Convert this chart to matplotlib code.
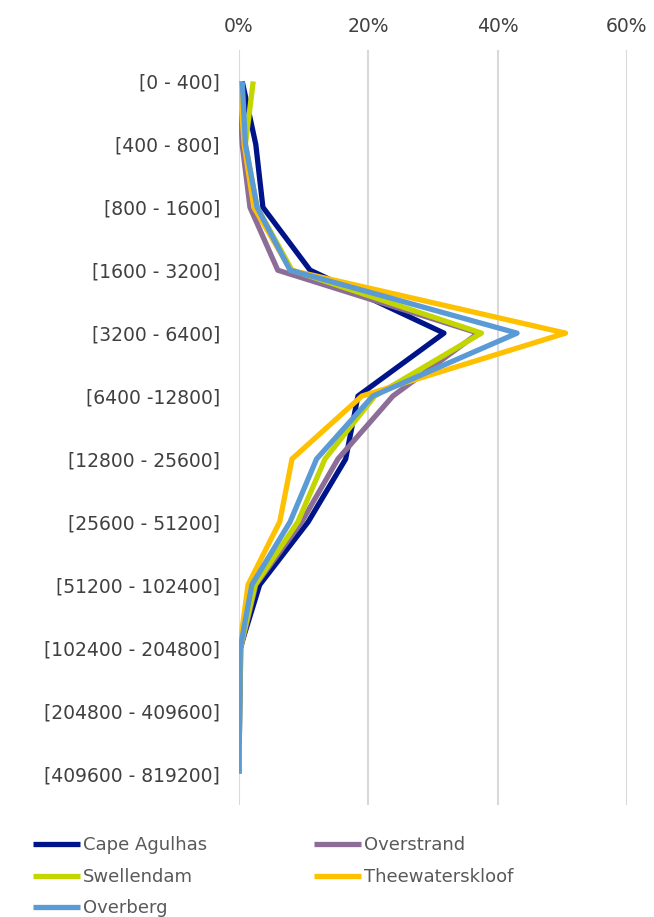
import matplotlib
matplotlib.use("Agg")
import matplotlib.pyplot as plt
from matplotlib.ticker import FuncFormatter

categories = ["[0 - 400]", "[400 - 800]", "[800 - 1600]", "[1600 - 3200]",
              "[3200 - 6400]", "[6400 -12800]", "[12800 - 25600]", "[25600 - 51200]",
              "[51200 - 102400]", "[102400 - 204800]", "[204800 - 409600]",
              "[409600 - 819200]"]

cape_agulhas = [0.5, 2.6, 3.7, 11.0, 31.7, 18.4, 16.5, 10.7, 3.2, 0.2, 0.1, 0.0]
overstrand = [0.0, 0.5, 1.7, 6.0, 37.0, 23.8, 15.3, 9.7, 2.6, 0.3, 0.1, 0.0]
swellendam = [2.2, 1.0, 2.8, 8.2, 37.5, 21.0, 13.3, 9.1, 2.5, 0.2, 0.1, 0.0]
theewaterskloof = [0.1, 0.8, 2.3, 8.0, 50.5, 19.0, 8.2, 6.3, 1.4, 0.1, 0.0, 0.0]
overberg = [0.5, 1.0, 2.8, 7.9, 43.0, 20.7, 12.0, 7.9, 2.0, 0.2, 0.1, 0.0]

series_names = ["Cape Agulhas", "Overstrand", "Swellendam", "Theewaterskloof", "Overberg"]
series_values = [cape_agulhas, overstrand, swellendam, theewaterskloof, overberg]
colors = ["#001489", "#8C6D97", "#C4D600", "#FFC000", "#5B9BD5"]

fig = plt.figure(figsize=(6.54, 9.17), dpi=100)
ax = fig.add_axes([0.3654, 0.1221, 0.5933, 0.8234])

y = list(range(len(categories)))
handles = {}
for name, vals, c in zip(series_names, series_values, colors):
    ln, = ax.plot([v / 100 for v in vals], y, color=c, lw=3.8,
                  solid_joinstyle="round", solid_capstyle="butt")
    handles[name] = ln

ax.set_xlim(0, 0.6)
ax.set_ylim(len(categories) - 0.5, -0.5)
ax.set_xticks([0, 0.2, 0.4, 0.6])
ax.xaxis.set_major_formatter(FuncFormatter(lambda v, p: f"{v*100:.0f}%"))
ax.xaxis.tick_top()
ax.set_yticks(y)
ax.set_yticklabels(categories)
ax.tick_params(axis="both", length=0, labelsize=13.5, colors="#404040")
ax.tick_params(axis="x", pad=10)
ax.tick_params(axis="y", pad=13.7)
ax.grid(axis="x", color="#D9D9D9", lw=1.5)
ax.set_axisbelow(True)
for s in ax.spines.values():
    s.set_visible(False)

order = ["Cape Agulhas", "Swellendam", "Overberg", "Overstrand", "Theewaterskloof"]
leg = fig.legend([handles[n] for n in order], order, ncol=2,
                 loc="upper left", bbox_to_anchor=(0.05, 0.088),
                 frameon=False, fontsize=13, handlelength=2.6,
                 handletextpad=0.2, columnspacing=5.9, labelspacing=0.75,
                 borderaxespad=0, borderpad=0)
for t in leg.get_texts():
    t.set_color("#595959")

fig.savefig("out.png", dpi=100)
